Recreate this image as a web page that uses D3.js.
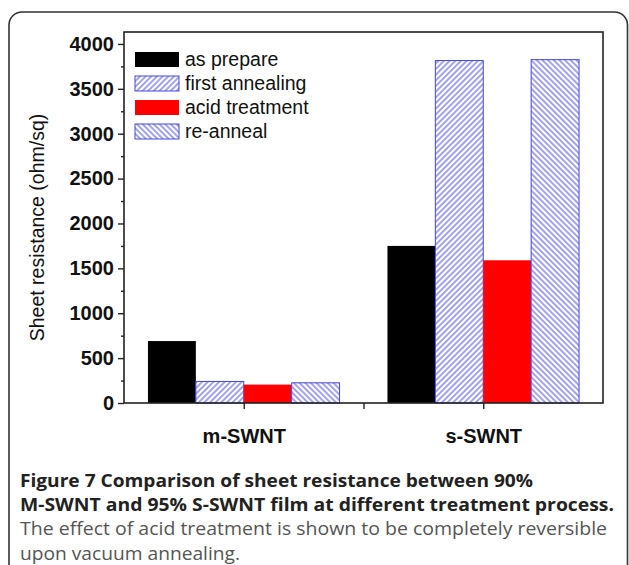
<!DOCTYPE html>
<html><head><meta charset="utf-8">
<script src="https://cdn.jsdelivr.net/npm/d3@7"></script>
<style>body{margin:0;background:#fff}svg{display:block}</style>
</head><body>
<script>
const categories = ["m-SWNT", "s-SWNT"];
const seriesNames = ["as prepare", "first annealing", "acid treatment", "re-anneal"];
const asPrepare = [690, 1750];
const firstAnnealing = [240, 3815];
const acidTreatment = [205, 1590];
const reAnneal = [225, 3825];
const yTicks = [0, 500, 1000, 1500, 2000, 2500, 3000, 3500, 4000];
const captionBold = ["Figure 7 Comparison of sheet resistance between 90%", "M-SWNT and 95% S-SWNT film at different treatment process."];
const captionRegular = ["The effect of acid treatment is shown to be completely reversible", "upon vacuum annealing."];

const series = [asPrepare, firstAnnealing, acidTreatment, reAnneal];
const W = 629, H = 565;
const svg = d3.select("body").append("svg").attr("width", W).attr("height", H);
const defs = svg.append("defs");
const blue = "#4646dc";
function hatch(id, angle) {
  const p = defs.append("pattern").attr("id", id).attr("patternUnits", "userSpaceOnUse")
    .attr("width", 4).attr("height", 10).attr("patternTransform", `rotate(${angle})`);
  p.append("rect").attr("width", 4).attr("height", 10).attr("fill", "#fff");
  p.append("line").attr("x1", 1).attr("x2", 1).attr("y1", -1).attr("y2", 11)
    .attr("stroke", blue).attr("stroke-width", 1);
}
hatch("hf", 45); hatch("hb", -45);
const fills = ["#000", "url(#hf)", "#ff0000", "url(#hb)"];
const strokes = ["#000", blue, "#ff0000", blue];

// outer rounded box
svg.append("rect").attr("x", 9).attr("y", 12).attr("width", 618.5).attr("height", 620)
  .attr("rx", 13).attr("fill", "none").attr("stroke", "#333").attr("stroke-width", 1.6);

const L = 124, R = 603, T = 32, B = 403;
const x = d3.scaleLinear().domain([0.5, 2.5]).range([L, R]);
const y = d3.scaleLinear().domain([0, 4133]).range([B, T]);
const bw = 0.2;

// bars
categories.forEach((c, ci) => {
  series.forEach((s, si) => {
    const x0 = x(ci + 1 - 0.4 + si * bw), x1 = x(ci + 1 - 0.4 + (si + 1) * bw);
    svg.append("rect").attr("x", x0).attr("y", y(s[ci])).attr("width", x1 - x0)
      .attr("height", y(0) - y(s[ci])).attr("fill", fills[si])
      .attr("stroke", strokes[si]).attr("stroke-width", si % 2 ? 1 : 0);
  });
});

// frame
svg.append("rect").attr("x", L).attr("y", T).attr("width", R - L).attr("height", B - T)
  .attr("fill", "none").attr("stroke", "#222").attr("stroke-width", 1.6);

// y axis
const yAxis = d3.axisLeft(y).tickValues(yTicks).tickSize(6).tickPadding(4).tickFormat(d3.format("d"));
const ya = svg.append("g").attr("transform", `translate(${L},0)`).call(yAxis);
ya.select(".domain").remove();
ya.selectAll("line").attr("stroke", "#222").attr("stroke-width", 1.4);
ya.selectAll("text").attr("font-family", "Liberation Sans, Arial").attr("font-weight", "bold")
  .attr("font-size", 20).attr("fill", "#111");
const yMinor = d3.axisLeft(y).tickValues(yTicks.slice(0, -1).map(v => v + 250)).tickSize(3).tickFormat("");
const ym = svg.append("g").attr("transform", `translate(${L},0)`).call(yMinor);
ym.select(".domain").remove();
ym.selectAll("line").attr("stroke", "#222").attr("stroke-width", 1.4);

// x axis
const xAxis = d3.axisBottom(x).tickValues([1, 1.5, 2]).tickSize(6).tickPadding(20)
  .tickFormat(d => Number.isInteger(d) ? categories[d - 1] : "");
const xa = svg.append("g").attr("transform", `translate(0,${B})`).call(xAxis);
xa.select(".domain").remove();
xa.selectAll("line").attr("stroke", "#222").attr("stroke-width", 1.4);
xa.selectAll("text").attr("font-family", "Liberation Sans, Arial").attr("font-weight", "bold")
  .attr("font-size", 20).attr("fill", "#111");

// y title
svg.append("text").attr("transform", `translate(44,${(T + B) / 2 + 10}) rotate(-90)`)
  .attr("text-anchor", "middle").attr("font-family", "Liberation Sans, Arial")
  .attr("font-size", 19.5).attr("fill", "#111").text("Sheet resistance (ohm/sq)");

// legend
seriesNames.forEach((n, i) => {
  const yy = 52 + i * 24;
  svg.append("rect").attr("x", 135).attr("y", yy).attr("width", 44).attr("height", 15)
    .attr("fill", fills[i]).attr("stroke", strokes[i]).attr("stroke-width", i % 2 ? 1 : 0);
  svg.append("text").attr("x", 185).attr("y", yy + 14).attr("font-family", "Liberation Sans, Arial")
    .attr("font-size", 19.5).attr("fill", "#111").text(n);
});

// caption
const capLen = [513, 594, 587, 220];
const capBase = [487, 511.2, 535.4, 559.5];
captionBold.forEach((t, i) => {
  svg.append("text").attr("x", 20).attr("y", capBase[i]).attr("font-family", "Open Sans")
    .attr("font-weight", "bold").attr("font-size", 17.4).attr("fill", "#222")
    .attr("textLength", capLen[i]).attr("lengthAdjust", "spacingAndGlyphs").text(t);
});
captionRegular.forEach((t, i) => {
  svg.append("text").attr("x", 20).attr("y", capBase[i + 2]).attr("font-family", "Open Sans")
    .attr("font-size", 17.4).attr("fill", "#555")
    .attr("textLength", capLen[i + 2]).attr("lengthAdjust", "spacingAndGlyphs").text(t);
});
</script>
</body></html>
